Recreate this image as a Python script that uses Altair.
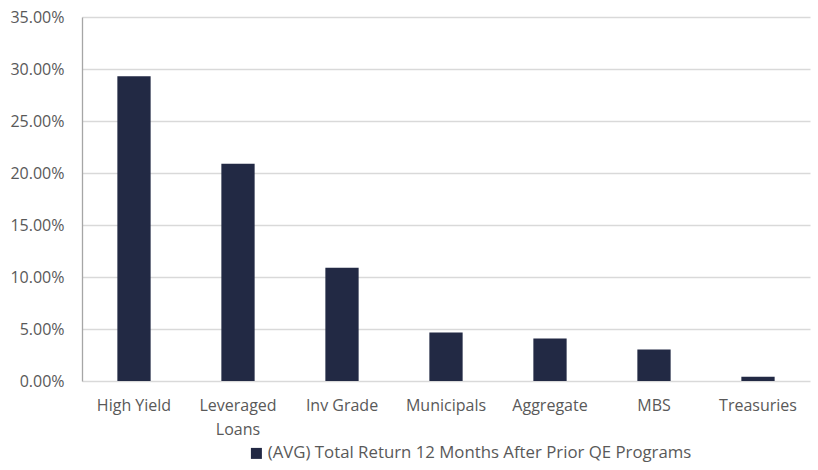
import altair as alt
import pandas as pd

categories = ["High Yield", "Leveraged Loans", "Inv Grade", "Municipals", "Aggregate", "MBS", "Treasuries"]
values = [0.293, 0.209, 0.109, 0.0467, 0.0409, 0.0303, 0.0042]
series_name = "(AVG) Total Return 12 Months After Prior QE Programs"
y_ticks = [0, 0.05, 0.10, 0.15, 0.20, 0.25, 0.30, 0.35]

df = pd.DataFrame({"category": categories, "value": values, "series": series_name})

FONT = "Open Sans"
TXT = "#595959"
FS = 16

chart = alt.Chart(df).mark_bar(color="#222944").encode(
    x=alt.X("category:N", sort=categories, title=None,
            scale=alt.Scale(paddingInner=0.68, paddingOuter=0.34),
            axis=alt.Axis(labelAngle=0, labelFont=FONT, labelFontSize=FS, labelColor=TXT,
                          domain=False, ticks=False, labelPadding=16, labelLineHeight=24,
                          labelExpr="datum.label == 'Leveraged Loans' ? ['Leveraged', 'Loans'] : datum.label")),
    y=alt.Y("value:Q", title=None,
            scale=alt.Scale(domain=[0, 0.35], nice=False),
            axis=alt.Axis(values=y_ticks, format=".2%", labelFont=FONT, labelFontSize=FS,
                          labelColor=TXT, ticks=False, labelPadding=18,
                          domainColor="#a6a6a6", domainWidth=1.3,
                          gridColor="#d9d9d9", gridWidth=1.3)),
    color=alt.Color("series:N", scale=alt.Scale(range=["#222944"]),
                    legend=alt.Legend(title=None, orient="none", legendX=166, legendY=428,
                                      symbolType="square", symbolSize=121, symbolStrokeWidth=0,
                                      labelFont=FONT, labelFontSize=16.8, labelColor=TXT,
                                      labelLimit=700, symbolOffset=0, labelOffset=3)),
).properties(
    width=728, height=364,
    autosize=alt.AutoSizeParams(type="none"),
    padding={"left": 82, "top": 17, "right": 8, "bottom": 89},
).configure_view(stroke=None)

chart.save("out.html", embed_options={"renderer": "svg", "actions": False})
